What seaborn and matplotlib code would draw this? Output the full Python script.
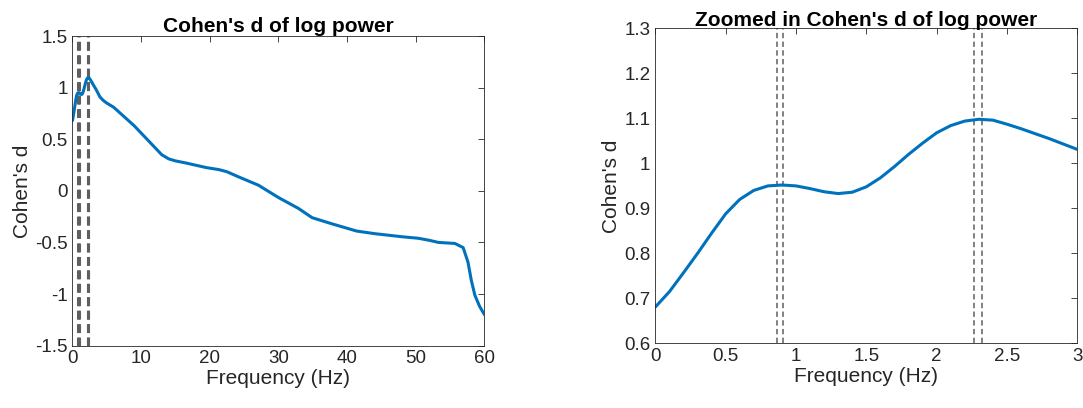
import numpy as np
import pandas as pd
import matplotlib
matplotlib.use("Agg")
import matplotlib.pyplot as plt
import seaborn as sns
from matplotlib.ticker import FormatStrFormatter

# ---- data ----
freq_hz = [0.0, 0.1, 0.2, 0.3, 0.4, 0.5, 0.6, 0.7, 0.8, 0.9, 1.0,
           1.1, 1.2, 1.3, 1.4, 1.5, 1.6, 1.7, 1.8, 1.9, 2.0,
           2.1, 2.2, 2.3, 2.4, 2.5, 2.6, 2.7, 2.8, 2.9, 3.0,
           3.5, 4.0, 4.5, 5.0, 6.0, 7.0, 8.0, 9.0, 10.0, 11.0, 12.0, 13.0,
           14.0, 15.0, 16.5, 18.5, 19.5, 21.3, 22.5, 24.2, 27.1, 30.0,
           32.9, 34.9, 37.8, 41.4, 44.0, 46.0, 48.0, 50.4, 52.0, 53.3,
           55.7, 56.9, 57.6, 58.1, 58.6, 59.3, 60.0]
cohens_d = [0.681, 0.715, 0.757, 0.800, 0.845, 0.888, 0.920, 0.940, 0.950, 0.952, 0.950,
            0.944, 0.937, 0.933, 0.936, 0.948, 0.968, 0.993, 1.020, 1.045, 1.068,
            1.084, 1.094, 1.098, 1.096, 1.087, 1.077, 1.066, 1.055, 1.043, 1.031,
            0.975, 0.910, 0.875, 0.850, 0.810, 0.750, 0.690, 0.630, 0.560, 0.490, 0.420, 0.350,
            0.310, 0.290, 0.270, 0.240, 0.225, 0.206, 0.185, 0.135, 0.054, -0.065,
            -0.170, -0.260, -0.320, -0.390, -0.415, -0.430, -0.445, -0.460, -0.480, -0.500,
            -0.510, -0.550, -0.690, -0.870, -1.010, -1.120, -1.200]
peak_lines = [0.867, 0.910, 2.263, 2.320]

df = pd.DataFrame({"Frequency (Hz)": freq_hz, "Cohen's d": cohens_d})

sns.set_style("white")
plt.rcParams["font.family"] = ["Liberation Sans", "DejaVu Sans"]
plt.rcParams["axes.unicode_minus"] = False

fig = plt.figure(figsize=(10.83, 4.08), dpi=100)
ax1 = fig.add_axes([0.0669, 0.1529, 0.3804, 0.7588])
ax2 = fig.add_axes([0.6051, 0.1581, 0.3897, 0.7725])

line_col = "#0072BD"
dash_col = "#5f5f5f"
axis_col = "#262626"

sns.lineplot(data=df, x="Frequency (Hz)", y="Cohen's d", ax=ax1,
             color=line_col, linewidth=2.2, sort=False)
sns.lineplot(data=df, x="Frequency (Hz)", y="Cohen's d", ax=ax2,
             color=line_col, linewidth=2.2, sort=False)

for xv in peak_lines:
    ax1.axvline(xv, color=dash_col, linewidth=2.2, dashes=(2.9, 1.5), zorder=1)
    ax2.axvline(xv, color=dash_col, linewidth=1.1, dashes=(3.5, 2.2), zorder=1)

ax1.set_xlim(0, 60)
ax1.set_ylim(-1.5, 1.5)
ax1.set_xticks([0, 10, 20, 30, 40, 50, 60])
ax1.set_yticks([-1.5, -1, -0.5, 0, 0.5, 1, 1.5])
ax1.set_title("Cohen's d of log power", fontsize=15, fontweight="bold",
              color="black", pad=3)

ax2.set_xlim(0, 3)
ax2.set_ylim(0.6, 1.3)
ax2.set_xticks([0, 0.5, 1, 1.5, 2, 2.5, 3])
ax2.set_yticks([0.6, 0.7, 0.8, 0.9, 1.0, 1.1, 1.2, 1.3])
ax2.set_title("Zoomed in Cohen's d of log power", fontsize=15, fontweight="bold",
              color="black", pad=1.5)

for ax in (ax1, ax2):
    ax.xaxis.set_major_formatter(FormatStrFormatter("%g"))
    ax.yaxis.set_major_formatter(FormatStrFormatter("%g"))
    ax.set_xlabel("Frequency (Hz)", fontsize=15, color=axis_col, labelpad=1)
    ax.set_ylabel("Cohen's d", fontsize=15, color=axis_col, labelpad=2)
    ax.tick_params(direction="in", length=4, width=0.6, colors=axis_col,
                   labelsize=13.5, top=True, right=True, pad=3.5)
    for s in ax.spines.values():
        s.set_visible(True)
        s.set_color(axis_col)
        s.set_linewidth(0.6)
    ax.grid(False)

fig.savefig("out.png", dpi=100)
